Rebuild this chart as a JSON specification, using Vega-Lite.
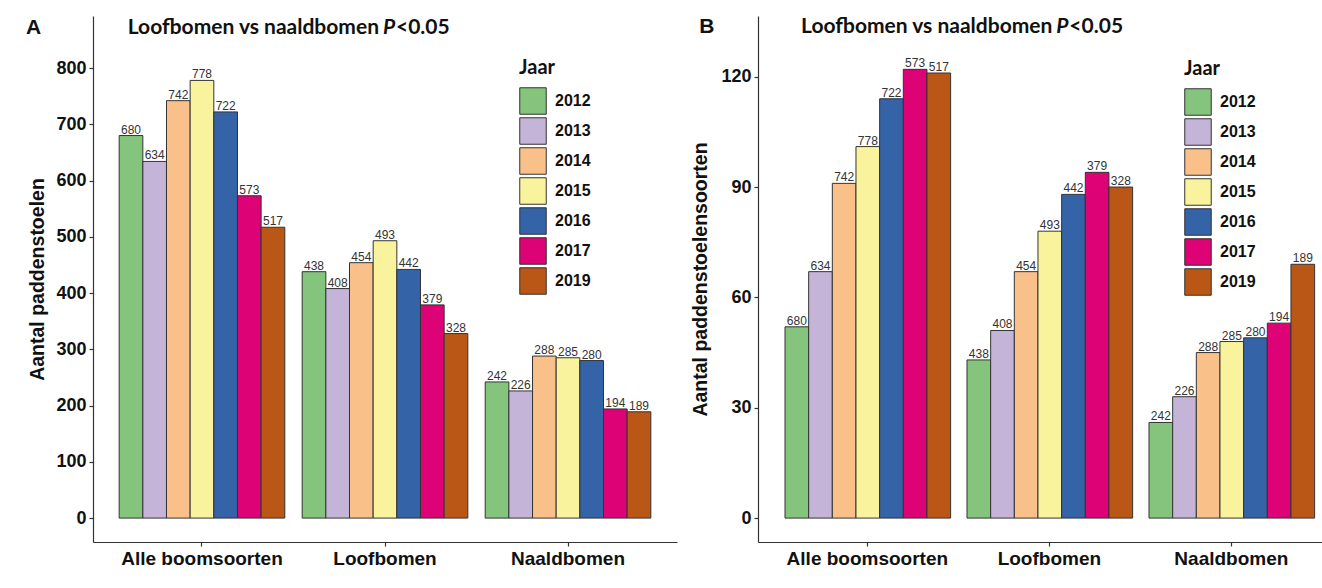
{
  "$schema": "https://vega.github.io/schema/vega-lite/v6.json",
  "background": "white",
  "padding": {"left": 25, "top": 16, "right": 0, "bottom": 0},
  "datasets": {
    "bars": [
      {"groep": "Alle boomsoorten", "jaar": "2012", "aantal": 680, "soorten": 52},
      {"groep": "Alle boomsoorten", "jaar": "2013", "aantal": 634, "soorten": 67},
      {"groep": "Alle boomsoorten", "jaar": "2014", "aantal": 742, "soorten": 91},
      {"groep": "Alle boomsoorten", "jaar": "2015", "aantal": 778, "soorten": 101},
      {"groep": "Alle boomsoorten", "jaar": "2016", "aantal": 722, "soorten": 114},
      {"groep": "Alle boomsoorten", "jaar": "2017", "aantal": 573, "soorten": 122},
      {"groep": "Alle boomsoorten", "jaar": "2019", "aantal": 517, "soorten": 121},
      {"groep": "Loofbomen", "jaar": "2012", "aantal": 438, "soorten": 43},
      {"groep": "Loofbomen", "jaar": "2013", "aantal": 408, "soorten": 51},
      {"groep": "Loofbomen", "jaar": "2014", "aantal": 454, "soorten": 67},
      {"groep": "Loofbomen", "jaar": "2015", "aantal": 493, "soorten": 78},
      {"groep": "Loofbomen", "jaar": "2016", "aantal": 442, "soorten": 88},
      {"groep": "Loofbomen", "jaar": "2017", "aantal": 379, "soorten": 94},
      {"groep": "Loofbomen", "jaar": "2019", "aantal": 328, "soorten": 90},
      {"groep": "Naaldbomen", "jaar": "2012", "aantal": 242, "soorten": 26},
      {"groep": "Naaldbomen", "jaar": "2013", "aantal": 226, "soorten": 33},
      {"groep": "Naaldbomen", "jaar": "2014", "aantal": 288, "soorten": 45},
      {"groep": "Naaldbomen", "jaar": "2015", "aantal": 285, "soorten": 48},
      {"groep": "Naaldbomen", "jaar": "2016", "aantal": 280, "soorten": 49},
      {"groep": "Naaldbomen", "jaar": "2017", "aantal": 194, "soorten": 53},
      {"groep": "Naaldbomen", "jaar": "2019", "aantal": 189, "soorten": 69}
    ],
    "titel": [
      {"deel": "Loofbomen vs naaldbomen"},
      {"deel": "P"},
      {"deel": "<0.05"},
      {"deel": "A"},
      {"deel": "B"}
    ]
  },
  "hconcat": [
    {
      "width": 584,
      "height": 526,
      "layer": [
        {
          "data": {"name": "bars"},
          "mark": {"type": "bar", "stroke": "#333333", "strokeWidth": 1},
          "encoding": {
            "x": {"field": "groep", "type": "nominal", "sort": ["Alle boomsoorten", "Loofbomen", "Naaldbomen"], "scale": {"paddingInner": 0.095, "paddingOuter": 0.143}, "axis": {"title": null, "labelAngle": 0}},
            "xOffset": {"field": "jaar", "type": "nominal", "scale": {"paddingInner": 0, "paddingOuter": 0}},
            "y": {"field": "aantal", "type": "quantitative", "scale": {"domain": [-42.5, 892.5], "nice": false, "zero": false}, "axis": {"values": [0, 100, 200, 300, 400, 500, 600, 700, 800], "title": "Aantal paddenstoelen", "titlePadding": 8}},
            "y2": {"datum": 0},
            "color": {"field": "jaar", "type": "nominal", "scale": {"domain": ["2012", "2013", "2014", "2015", "2016", "2017", "2019"], "range": ["#84C47C", "#C4B4D8", "#F9C189", "#FAF39D", "#3563A8", "#DD0276", "#BB5716"]},
              "legend": {"orient": "none", "legendX": 426, "legendY": 42, "title": "Jaar", "titleFont": "Lato", "titleFontSize": 20, "titleFontWeight": "bold", "titleColor": "#111111", "titlePadding": 9, "labelFont": "Liberation Sans", "labelFontSize": 16, "labelFontWeight": "bold", "labelColor": "#111111", "labelOffset": 8, "symbolType": "square", "symbolSize": 702, "symbolStrokeColor": "#333333", "symbolStrokeWidth": 1, "symbolOpacity": 1, "rowPadding": -2}}
          }
        },
        {
          "data": {"name": "bars"},
          "mark": {"type": "text", "baseline": "alphabetic", "dy": -2, "font": "Liberation Sans", "fontSize": 12, "color": "#333333"},
          "encoding": {
            "x": {"field": "groep", "type": "nominal"},
            "xOffset": {"field": "jaar", "type": "nominal"},
            "y": {"field": "aantal", "type": "quantitative"},
            "text": {"field": "aantal", "type": "quantitative"}
          }
        },
        {
          "data": {"name": "titel"},
          "transform": [{"filter": "datum.deel === 'A'"}],
          "mark": {"type": "text", "align": "left", "baseline": "middle", "dx": -176, "font": "Liberation Sans", "fontSize": 21, "fontWeight": "bold", "color": "#111111"},
          "encoding": {"x": {"datum": "Alle boomsoorten"}, "y": {"datum": 871}, "text": {"field": "deel"}}
        },
        {
          "data": {"name": "titel"},
          "transform": [{"filter": "datum.deel === 'Loofbomen vs naaldbomen'"}],
          "mark": {"type": "text", "align": "right", "baseline": "middle", "dx": 177, "font": "Lato", "fontSize": 21, "fontWeight": "bold", "color": "#111111"},
          "encoding": {"x": {"datum": "Alle boomsoorten"}, "y": {"datum": 871}, "text": {"field": "deel"}}
        },
        {
          "data": {"name": "titel"},
          "transform": [{"filter": "datum.deel === 'P'"}],
          "mark": {"type": "text", "align": "left", "baseline": "middle", "dx": 181, "font": "Lato", "fontSize": 21, "fontWeight": "bold", "fontStyle": "italic", "color": "#111111"},
          "encoding": {"x": {"datum": "Alle boomsoorten"}, "y": {"datum": 871}, "text": {"field": "deel"}}
        },
        {
          "data": {"name": "titel"},
          "transform": [{"filter": "datum.deel === '<0.05'"}],
          "mark": {"type": "text", "align": "left", "baseline": "middle", "dx": 194, "font": "Lato", "fontSize": 21, "fontWeight": "bold", "color": "#111111"},
          "encoding": {"x": {"datum": "Alle boomsoorten"}, "y": {"datum": 871}, "text": {"field": "deel"}}
        }
      ]
    },
    {
      "width": 565,
      "height": 526,
      "layer": [
        {
          "data": {"name": "bars"},
          "mark": {"type": "bar", "stroke": "#333333", "strokeWidth": 1},
          "encoding": {
            "x": {"field": "groep", "type": "nominal", "sort": ["Alle boomsoorten", "Loofbomen", "Naaldbomen"], "scale": {"paddingInner": 0.095, "paddingOuter": 0.0997, "align": 0.744}, "axis": {"title": null, "labelAngle": 0}},
            "xOffset": {"field": "jaar", "type": "nominal", "scale": {"paddingInner": 0, "paddingOuter": 0}},
            "y": {"field": "soorten", "type": "quantitative", "scale": {"domain": [-6.5, 136.5], "nice": false, "zero": false}, "axis": {"values": [0, 30, 60, 90, 120], "title": "Aantal paddenstoelensoorten", "titlePadding": 10}},
            "y2": {"datum": 0},
            "color": {"field": "jaar", "type": "nominal", "scale": {"domain": ["2012", "2013", "2014", "2015", "2016", "2017", "2019"], "range": ["#84C47C", "#C4B4D8", "#F9C189", "#FAF39D", "#3563A8", "#DD0276", "#BB5716"]},
              "legend": {"orient": "none", "legendX": 426, "legendY": 43, "title": "Jaar", "titleFont": "Lato", "titleFontSize": 20, "titleFontWeight": "bold", "titleColor": "#111111", "titlePadding": 9, "labelFont": "Liberation Sans", "labelFontSize": 16, "labelFontWeight": "bold", "labelColor": "#111111", "labelOffset": 8, "symbolType": "square", "symbolSize": 702, "symbolStrokeColor": "#333333", "symbolStrokeWidth": 1, "symbolOpacity": 1, "rowPadding": -2}}
          }
        },
        {
          "data": {"name": "bars"},
          "mark": {"type": "text", "baseline": "alphabetic", "dy": -2, "font": "Liberation Sans", "fontSize": 12, "color": "#333333"},
          "encoding": {
            "x": {"field": "groep", "type": "nominal"},
            "xOffset": {"field": "jaar", "type": "nominal"},
            "y": {"field": "soorten", "type": "quantitative"},
            "text": {"field": "aantal", "type": "quantitative"}
          }
        },
        {
          "data": {"name": "titel"},
          "transform": [{"filter": "datum.deel === 'B'"}],
          "mark": {"type": "text", "align": "left", "baseline": "middle", "dx": -168, "font": "Liberation Sans", "fontSize": 21, "fontWeight": "bold", "color": "#111111"},
          "encoding": {"x": {"datum": "Alle boomsoorten"}, "y": {"datum": 133.4}, "text": {"field": "deel"}}
        },
        {
          "data": {"name": "titel"},
          "transform": [{"filter": "datum.deel === 'Loofbomen vs naaldbomen'"}],
          "mark": {"type": "text", "align": "right", "baseline": "middle", "dx": 185, "font": "Lato", "fontSize": 21, "fontWeight": "bold", "color": "#111111"},
          "encoding": {"x": {"datum": "Alle boomsoorten"}, "y": {"datum": 133.4}, "text": {"field": "deel"}}
        },
        {
          "data": {"name": "titel"},
          "transform": [{"filter": "datum.deel === 'P'"}],
          "mark": {"type": "text", "align": "left", "baseline": "middle", "dx": 189, "font": "Lato", "fontSize": 21, "fontWeight": "bold", "fontStyle": "italic", "color": "#111111"},
          "encoding": {"x": {"datum": "Alle boomsoorten"}, "y": {"datum": 133.4}, "text": {"field": "deel"}}
        },
        {
          "data": {"name": "titel"},
          "transform": [{"filter": "datum.deel === '<0.05'"}],
          "mark": {"type": "text", "align": "left", "baseline": "middle", "dx": 202, "font": "Lato", "fontSize": 21, "fontWeight": "bold", "color": "#111111"},
          "encoding": {"x": {"datum": "Alle boomsoorten"}, "y": {"datum": 133.4}, "text": {"field": "deel"}}
        }
      ]
    }
  ],
  "spacing": 81,
  "bounds": "flush",
  "resolve": {"legend": {"color": "independent"}},
  "config": {
    "view": {"stroke": null},
    "axis": {"domainColor": "#333333", "domainWidth": 1.2, "tickColor": "#333333", "tickWidth": 1.2, "tickSize": 4, "labelFont": "Liberation Sans", "labelFontWeight": "bold", "labelFontSize": 18, "labelColor": "#111111", "labelPadding": 3, "titleFont": "Liberation Sans", "titleFontWeight": "bold", "titleFontSize": 19.5, "titleColor": "#111111", "grid": false},
    "axisX": {"labelFontSize": 19, "labelPadding": 3}
  }
}
